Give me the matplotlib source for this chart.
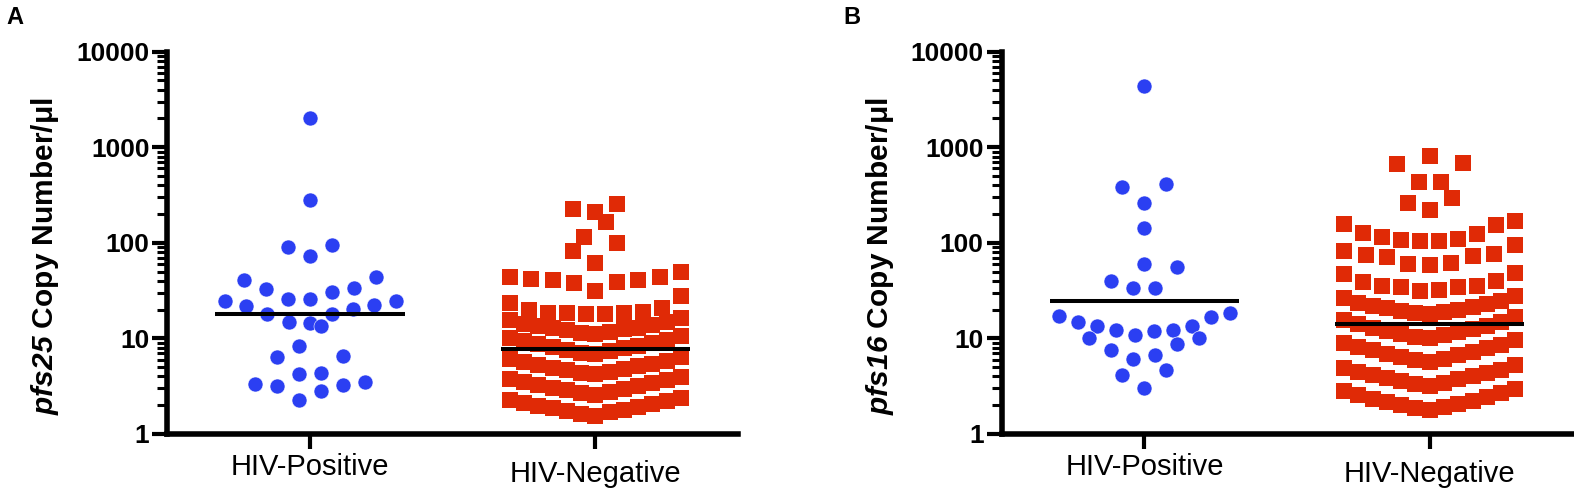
import numpy as np
import matplotlib
matplotlib.use("Agg")
import matplotlib.pyplot as plt
from matplotlib.ticker import LogLocator, NullFormatter
from matplotlib.transforms import ScaledTranslation

plt.rcParams['font.family'] = ['Liberation Sans', 'DejaVu Sans']
plt.rcParams['mathtext.fontset'] = 'custom'
plt.rcParams['mathtext.rm'] = 'Liberation Sans'
plt.rcParams['mathtext.it'] = 'Liberation Sans:italic'
plt.rcParams['mathtext.bf'] = 'Liberation Sans:bold'
plt.rcParams['mathtext.bfit'] = 'Liberation Sans:italic:bold'

groups = ["HIV-Positive", "HIV-Negative"]
yticks = [1, 10, 100, 1000, 10000]
ytick_labels = ["1", "10", "100", "1000", "10000"]

# panel A - pfs25 copies/ul
pfs25_pos = [2000, 279, 96, 90, 72, 43.5, 41, 33.4, 32.5, 30.7, 25.7, 25.7,
             24.7, 24.5, 22.6, 21.7, 20.4, 18, 18, 14.8, 14.6, 13.5, 8.3,
             6.5, 6.4, 4.35, 4.28, 3.47, 3.36, 3.28, 3.15, 2.81, 2.28]
pfs25_neg = [1.56, 1.62, 1.68, 1.74, 1.8, 1.86, 1.92, 1.98, 2.05, 2.12, 2.2, 2.29, 2.4,
             2.56, 2.66, 2.76, 2.86, 2.96, 3.06, 3.16, 3.27, 3.38, 3.5, 3.63, 3.78, 3.96,
             4.2, 4.35, 4.5, 4.65, 4.8, 4.95, 5.1, 5.27, 5.45, 5.65, 5.87, 6.12, 6.45,
             6.85, 7.1, 7.35, 7.6, 7.85, 8.1, 8.4, 8.7, 9.0, 9.35, 9.7, 10.1, 10.6,
             11.2, 11.5, 11.8, 12.1, 12.4, 12.7, 13.0, 13.4, 13.8, 14.3, 14.9, 15.6, 16.5,
             18.2, 18.2, 18.3, 18.4, 18.5, 19.0, 20.0, 20.8, 23.5, 27.5,
             31.5, 37.7, 38.6, 40.8, 40.8, 41.8, 43.9, 44.2, 49.5,
             62, 83, 99, 116, 164, 208, 226, 257]
pfs25_lines = [18.2, 7.7]

# panel B - pfs16 copies/ul
pfs16_pos = [4420, 415, 382, 259, 144, 60.5, 55.5, 39.5, 33.6, 33.6, 18.3, 17.2,
             16.8, 14.7, 13.4, 13.4, 12.3, 12.1, 12.0, 10.9, 10.2, 10.2, 8.7,
             7.5, 6.7, 6.1, 4.7, 4.15, 3.0]
pfs16_neg = [1.79, 1.86, 1.93, 2.0, 2.08, 2.16, 2.24, 2.33, 2.43, 2.54, 2.66, 2.8, 2.97,
             3.16, 3.3, 3.44, 3.58, 3.72, 3.86, 4.0, 4.15, 4.32, 4.5, 4.7, 4.95, 5.25,
             5.65, 5.9, 6.15, 6.4, 6.65, 6.9, 7.2, 7.5, 7.85, 8.2, 8.6, 9.05, 9.6,
             10.0, 10.4, 10.8, 11.2, 11.6, 12.0, 12.5, 13.0, 13.5, 14.1, 14.8, 15.6, 16.6,
             17.8, 18.3, 18.8, 19.4, 20.0, 20.6, 21.3, 22.0, 22.8, 23.7, 24.8, 26.2, 28.0,
             31.6, 32.0, 34.2, 34.7, 35.3, 35.3, 38.6, 40.0, 47.2, 48.7,
             58.7, 60.0, 61.0, 71.8, 73.0, 74.8, 76.6, 83.0, 95.0,
             104, 104.5, 108, 110, 116, 124, 126, 152, 157, 168,
             221, 259, 295, 432, 438, 673, 690, 811]
pfs16_lines = [24.7, 14.3]

blue = '#2B3FF2'
red = '#E02A06'


def column_offsets(vals, row_h, step=0.077, span=0.60):
    # prism style column scatter: rows in log space, lowest value in the middle
    logv = np.log10(np.asarray(vals, float))
    order = np.argsort(logv, kind="stable")
    dx = np.zeros(len(logv))
    i = 0
    while i < len(order):
        start = logv[order[i]]
        j = i
        while j < len(order) and logv[order[j]] <= start + row_h + 1e-9:
            j += 1
        row = order[i:j]
        n = len(row)
        s = step if n < 2 else min(step, span / (n - 1))
        for k, idx in enumerate(row):
            if n % 2:
                m = (k + 1) // 2
                sign = -1 if k % 2 else 1
            else:
                m = k // 2 + 0.5
                sign = -1 if k % 2 == 0 else 1
            dx[idx] = sign * m * s
        i = j
    return dx


def draw_panel(ax, pos, neg, lines, gene, h_pos, h_neg):
    xp = 0 + column_offsets(pos, h_pos)
    xn = 1 + column_offsets(neg, h_neg)
    ax.plot(xp, pos, 'o', ms=10.8, color=blue, mec='white', mew=0.4,
            linestyle='none', zorder=3)
    ax.plot(xn, neg, 's', ms=11, color=red, mew=0,
            linestyle='none', zorder=3)
    for k, v in enumerate(lines):
        ax.hlines(v, k - 0.332, k + 0.332, color='black', lw=2.9, zorder=4)

    ax.set_yscale('log')
    ax.set_ylim(1, 10000)
    ax.set_xlim(-0.5, 1.5)
    ax.set_yticks(yticks)
    ax.set_yticklabels(ytick_labels)
    ax.yaxis.set_minor_locator(LogLocator(base=10, subs=np.arange(2, 10), numticks=20))
    ax.yaxis.set_minor_formatter(NullFormatter())
    ax.set_xticks([0, 1])
    ax.set_xticklabels(groups)

    ax.tick_params(axis='y', which='major', length=11, width=3, pad=2, labelsize=19)
    ax.tick_params(axis='y', which='minor', length=7.3, width=2.2)
    ax.tick_params(axis='x', length=11, width=3, pad=3, labelsize=21)
    for lab in ax.get_yticklabels():
        lab.set_fontweight('bold')
    # the negative group label sits a bit lower in the original
    lab = ax.get_xticklabels()[1]
    lab.set_transform(lab.get_transform() +
                      ScaledTranslation(0, -5 / 72, ax.figure.dpi_scale_trans))

    for side in ['top', 'right']:
        ax.spines[side].set_visible(False)
    for side in ['left', 'bottom']:
        ax.spines[side].set_linewidth(4)
        ax.spines[side].set_capstyle('projecting')

    ax.set_ylabel(r'$\mathbfit{' + gene + r'}$ Copy Number/μl',
                  fontsize=21.5, fontweight='bold')
    ax.yaxis.set_label_coords(-0.186, 0.466)


fig = plt.figure(figsize=(15.74, 4.99), dpi=100)
ax1 = fig.add_axes([0.1064, 0.1303, 0.3625, 0.7661])
ax2 = fig.add_axes([0.6364, 0.1303, 0.3626, 0.7661])

draw_panel(ax1, pfs25_pos, pfs25_neg, pfs25_lines, 'pfs25', 0.24, 0.205)
draw_panel(ax2, pfs16_pos, pfs16_neg, pfs16_lines, 'pfs16', 0.245, 0.245)

fig.text(0.004, 0.988, 'A', fontsize=17, fontweight='bold', va='top')
fig.text(0.5358, 0.988, 'B', fontsize=17, fontweight='bold', va='top')

fig.savefig('out.png', dpi=100)
